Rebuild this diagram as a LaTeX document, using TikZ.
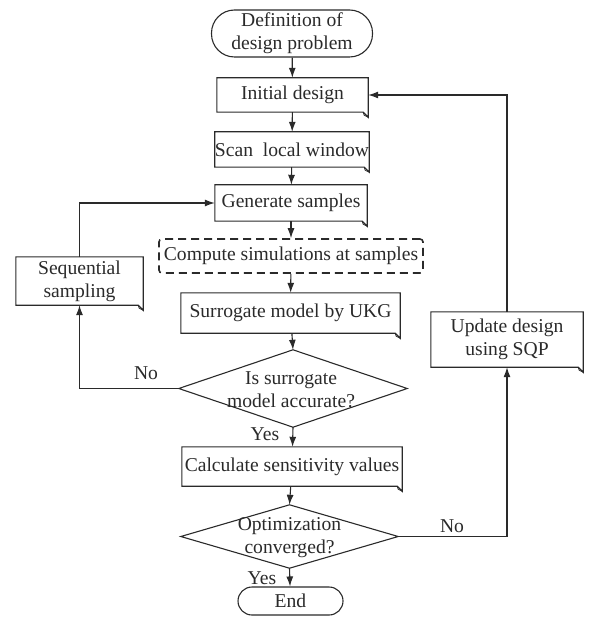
\documentclass[tikz,border=0pt]{standalone}
\usepackage{fontspec}
\setmainfont{Liberation Serif}
\usetikzlibrary{arrows.meta}
\definecolor{ink}{HTML}{2A2A2A}
\tikzset{
  x=1pt,y=-1pt,
  every node/.style={font=\fontsize{19.6}{23}\selectfont, text=ink, inner sep=0pt, align=center},
  term/.style={draw=ink, line width=1.1pt, rounded corners=13pt},
  conn/.style={draw=ink, line width=1.1pt},
  arr/.style={conn, -{Latex[length=10pt,width=7pt]}},
  lbl/.style={font=\fontsize{19.6}{23}\selectfont},
}
\begin{document}
\begin{tikzpicture}
\useasboundingbox (0,0) rectangle (590,617);
% terminals
\node[term, rounded corners=23pt, minimum width=161pt, minimum height=47pt] (start) at (292,33.5) {Definition of\\design problem};
\node[term, rounded corners=14pt, minimum width=105pt, minimum height=28pt] (end) at (290.5,601) {End};
% process boxes
\node[minimum width=151pt, minimum height=34pt] (init) at (292.5,95) {Initial design};
\node[minimum width=150pt, minimum height=35pt] (scan) at (292,149.5) {Scan\ \ local window};
\node[minimum width=152pt, minimum height=36pt] (gen) at (291,203) {Generate samples};
\node[draw=ink, line width=1.6pt, dash pattern=on 8pt off 5pt, rounded corners=3pt, minimum width=264pt, minimum height=34pt] (comp) at (291,256) {Compute simulations at samples};
\node[minimum width=219pt, minimum height=40pt] (surr) at (290.5,313) {Surrogate model by UKG};
\node[minimum width=127pt, minimum height=48pt] (seq) at (79.5,281) {Sequential\\sampling};
\node[minimum width=220pt, minimum height=39pt] (calc) at (292,466.5) {Calculate sensitivity values};
\node[minimum width=152pt, minimum height=55pt] (upd) at (507,339.5) {Update design\\using SQP};
% decision shapes
\node[minimum width=228pt, minimum height=77pt] (d1) at (293,388.5) {};
\node at (291,390) {Is surrogate\\model accurate?};
\node[minimum width=217pt, minimum height=63pt] (d2) at (289.5,536.5) {};
\node at (289.5,538) {Optimization\\converged?};
\foreach \d in {d1,d2}{
  \draw[conn] (\d.north) -- (\d.east) -- (\d.south) -- (\d.west) -- cycle;
}
% folded-corner boxes
\foreach \n in {init,scan,gen,surr,seq,calc,upd}{
  \draw[conn, line join=miter] (\n.north west) -- (\n.north east) -- ([yshift=-5pt]\n.south east)
     -- ([xshift=-5pt]\n.south east) -- (\n.south west) -- cycle;
  \draw[draw=ink, line width=0.8pt] ([yshift=-5pt]\n.south east) -- ([xshift=-4pt,yshift=-3pt]\n.south east) -- ([xshift=-5pt]\n.south east);
}
% main flow
\draw[arr] (start) -- (init);
\draw[arr] (init) -- (scan);
\draw[arr] (scan) -- (gen);
\draw[arr] (gen) -- (comp);
\draw[arr] (comp) -- (surr);
\draw[arr] (surr) -- (d1.north);
\draw[arr] (d1.south) -- (calc);
\draw[arr] (calc) -- (d2.north);
\draw[arr] (d2.south) -- (end);
% loops
\draw[arr] (d1.west) -| (seq.south);
\draw[arr] (seq.north) |- (gen.west);
\draw[arr] (d2.east) -| (upd.south);
\draw[arr] (upd.north) |- (init.east);
% labels
\node[lbl] at (146,373) {No};
\node[lbl] at (265,434) {Yes};
\node[lbl] at (262,578) {Yes};
\node[lbl] at (452,526) {No};
\end{tikzpicture}
\end{document}
